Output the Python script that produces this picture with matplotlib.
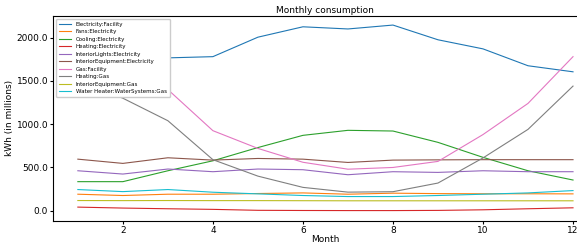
import matplotlib
matplotlib.use("Agg")
from matplotlib import pyplot as plt
from matplotlib.ticker import FormatStrFormatter

months = [1, 2, 3, 4, 5, 6, 7, 8, 9, 10, 11, 12]

# kWh (in millions)
elec_facility = [1620, 1470, 1766, 1780, 2005, 2125, 2100, 2145, 1975, 1870, 1675, 1605]
fans_elec = [191, 176, 191, 191, 199, 206, 191, 203, 198, 196, 196, 195]
cooling_elec = [336, 336, 462, 577, 730, 871, 929, 921, 790, 617, 462, 355]
heating_elec = [42, 31, 23, 16, 5, 3, 2, 2, 4, 11, 23, 34]
lights_elec = [462, 424, 482, 451, 482, 474, 416, 451, 443, 462, 451, 451]
equip_elec = [596, 547, 612, 585, 604, 596, 558, 585, 588, 590, 590, 590]
gas_facility = [1850, 1600, 1400, 925, 720, 560, 480, 500, 570, 880, 1240, 1780]
heating_gas = [1500, 1300, 1040, 590, 400, 270, 215, 220, 320, 610, 940, 1440]
equip_gas = [118, 117, 118, 117, 117, 116, 115, 115, 115, 115, 115, 115]
water_gas = [245, 221, 245, 214, 195, 176, 164, 164, 176, 191, 206, 233]

labels = ["Electricity:Facility", "Fans:Electricity", "Cooling:Electricity",
          "Heating:Electricity", "InteriorLights:Electricity",
          "InteriorEquipment:Electricity", "Gas:Facility", "Heating:Gas",
          "InteriorEquipment:Gas", "Water Heater:WaterSystems:Gas"]
series = [elec_facility, fans_elec, cooling_elec, heating_elec, lights_elec,
          equip_elec, gas_facility, heating_gas, equip_gas, water_gas]

fig = plt.figure(figsize=(5.77, 2.42), dpi=100)
ax = fig.add_axes([0.092, 0.088, 0.944, 0.846])

for s, lab in zip(series, labels):
    ax.plot(months, s, label=lab, linewidth=0.8)

ax.set_xlim(0.45, 12.55)
ax.set_ylim(-115, 2250)
ax.set_xticks([2, 4, 6, 8, 10, 12])
ax.yaxis.set_major_formatter(FormatStrFormatter("%.1f"))
ax.tick_params(labelsize=6.5, length=2, pad=1.5)
ax.set_title("Monthly consumption", fontsize=6.5, pad=2)
ax.set_xlabel("Month", fontsize=6.5, labelpad=0)
ax.set_ylabel("kWh (in millions)", fontsize=6.5, labelpad=2)
ax.legend(loc="upper left", fontsize=4, labelspacing=0.45, handlelength=2.3,
          borderpad=0.5, framealpha=1)

plt.savefig("out.png", dpi=100)
